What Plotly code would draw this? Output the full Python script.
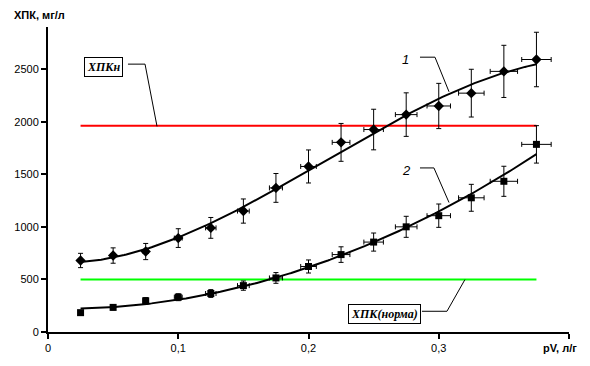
import numpy as np
import plotly.graph_objects as go

# ---- data ----
pv = [0.025, 0.05, 0.075, 0.1, 0.125, 0.15, 0.175, 0.2, 0.225, 0.25, 0.275, 0.3, 0.325, 0.35, 0.375]
hpk1 = [680, 727, 765, 893, 990, 1150, 1370, 1574, 1803, 1925, 2067, 2149, 2271, 2478, 2591]
hpk2 = [184, 234, 297, 331, 366, 441, 514, 623, 736, 855, 1000, 1106, 1276, 1433, 1784]
err_x = [0.001, 0.0015, 0.002, 0.003, 0.004, 0.0045, 0.005, 0.006, 0.0068, 0.0075, 0.0083, 0.009, 0.0098, 0.0105, 0.0113]
err_y1 = [68, 73, 77, 89, 99, 115, 137, 157, 180, 193, 207, 215, 227, 248, 259]
err_y2 = [18, 23, 30, 33, 37, 44, 51, 62, 74, 86, 100, 111, 128, 143, 178]
hpk_n = 1960       # ХПКн
hpk_norm = 500     # ХПК(норма)
trend_order1 = 3
trend_order2 = 2
x_ticks = [0, 0.1, 0.2, 0.3, 0.4]
x_ticktext = ["0", "0,1", "0,2", "0,3", ""]
y_ticks = [0, 500, 1000, 1500, 2000, 2500]

fig = go.Figure()

# horizontal reference lines
fig.add_trace(go.Scatter(x=[pv[0], pv[-1]], y=[hpk_n, hpk_n], mode="lines",
                         line=dict(color="#ff0000", width=2), hoverinfo="skip"))
fig.add_trace(go.Scatter(x=[pv[0], pv[-1]], y=[hpk_norm, hpk_norm], mode="lines",
                         line=dict(color="#00ff00", width=2), hoverinfo="skip"))

# polynomial trend lines
xs = np.linspace(pv[0], pv[-1], 200)
for ys, order in ((hpk1, trend_order1), (hpk2, trend_order2)):
    c = np.polyfit(pv, ys, order)
    fig.add_trace(go.Scatter(x=xs, y=np.polyval(c, xs), mode="lines",
                             line=dict(color="black", width=2), hoverinfo="skip"))

# data with error bars
eb = dict(type="data", visible=True, color="black", thickness=1, width=2.5)
fig.add_trace(go.Scatter(x=pv, y=hpk1, mode="markers",
                         marker=dict(symbol="diamond", size=8, color="black"),
                         error_y=dict(array=err_y1, **eb), error_x=dict(array=err_x, **eb)))
fig.add_trace(go.Scatter(x=pv, y=hpk2, mode="markers",
                         marker=dict(symbol="square", size=7, color="black"),
                         error_y=dict(array=err_y2, **eb), error_x=dict(array=err_x, **eb)))

# leader lines (bent)
def leader(xs_, ys_):
    fig.add_trace(go.Scatter(x=xs_, y=ys_, mode="lines", line=dict(color="black", width=1),
                             hoverinfo="skip"))

leader([0.0614, 0.0745, 0.0837], [2547, 2547, 1955])
leader([0.2871, 0.3063, 0.3201], [197, 197, 498])
leader([0.2856, 0.2971, 0.3079], [2613, 2613, 2284])
leader([0.2856, 0.2963, 0.3079], [1560, 1560, 1231])

serif = dict(family="Liberation Serif, Times New Roman, serif", size=12, color="black")
fig.add_annotation(x=0.0426, y=2519, xref="x", yref="y", showarrow=False,
                   text="<b><i>ХПКн</i></b>", font=serif, bgcolor="white",
                   bordercolor="black", borderwidth=1, borderpad=2)
fig.add_annotation(x=0.2583, y=174, xref="x", yref="y", showarrow=False,
                   text="<b><i>ХПК(норма)</i></b>", font=serif, bgcolor="white",
                   bordercolor="black", borderwidth=1, borderpad=2)
fig.add_annotation(x=0.2741, y=2594, xref="x", yref="y", showarrow=False,
                   text="<i>1</i>", font=dict(family="Liberation Sans", size=13, color="black"))
fig.add_annotation(x=0.2749, y=1532, xref="x", yref="y", showarrow=False,
                   text="<i>2</i>", font=dict(family="Liberation Sans", size=13, color="black"))

# axis titles
fig.add_annotation(x=-0.069, y=1.039, xref="paper", yref="paper", xanchor="left", yanchor="middle",
                   showarrow=False, text="<b>ХПК, мг/л</b>",
                   font=dict(family="Liberation Sans", size=11, color="black"))
fig.add_annotation(x=0.9457, y=-0.051, xref="paper", yref="paper", xanchor="left", yanchor="middle",
                   showarrow=False, text="<b>pV, л/г</b>",
                   font=dict(family="Liberation Sans", size=11, color="black"))

fig.update_layout(
    width=590, height=366,
    margin=dict(l=48, r=21, t=27, b=31),
    paper_bgcolor="white", plot_bgcolor="white",
    showlegend=False,
    font=dict(family="Liberation Sans", size=11, color="black"),
    xaxis=dict(range=[0, 0.4], tickvals=x_ticks, ticktext=x_ticktext,
               showgrid=False, zeroline=False, showline=True, linecolor="black", linewidth=2,
               ticks="outside", ticklen=5, tickwidth=2, tickcolor="black"),
    yaxis=dict(range=[0, 2900], tickvals=y_ticks, showgrid=False, zeroline=False,
               showline=True, linecolor="black", linewidth=2,
               ticks="outside", ticklen=5, tickwidth=2, tickcolor="black"),
)

fig.write_html("out.html")
